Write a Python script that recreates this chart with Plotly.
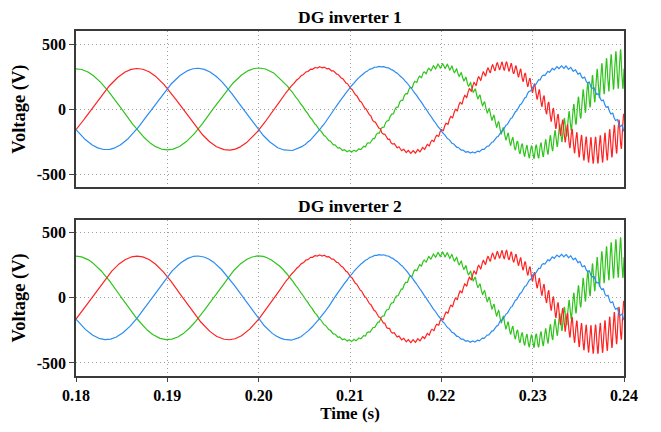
import numpy as np
import plotly.graph_objects as go
from plotly.subplots import make_subplots

# ---- values ----
panel_titles = ["DG inverter 1", "DG inverter 2"]
x_ticks = [0.18, 0.19, 0.20, 0.21, 0.22, 0.23, 0.24]
x_tick_labels = ["0.18", "0.19", "0.20", "0.21", "0.22", "0.23", "0.24"]
y_ticks = [-500, 0, 500]
y_tick_labels = ["-500", "0", "500"]

grid_freq_hz = 50.0            # fundamental (period 0.02 s)
ripple_freq_hz = 1950.0        # high-frequency oscillation seen after 0.20 s
peak_time_red = 0.1867         # first positive peak of each phase (s)
peak_time_blue = 0.1933
peak_time_green = 0.2000

# envelope knots (time, s)
knot_t = [0.180, 0.200, 0.205, 0.210, 0.215, 0.220, 0.225, 0.230, 0.235, 0.240]
# fundamental amplitude (V) at knots
amp_inv1 = [310, 316, 320, 324, 328, 332, 334, 330, 320, 310]
amp_inv2 = [320, 322, 325, 328, 332, 335, 336, 332, 322, 312]
# ripple amplitude (V) at knots, per phase
rip_red_inv1 = [0, 0, 5, 7, 10, 15, 24, 45, 90, 125]
rip_blue_inv1 = [0, 0, 2, 3, 4, 5, 7, 9, 12, 16]
rip_green_inv1 = [0, 0, 5, 8, 11, 17, 28, 50, 95, 155]
rip_red_inv2 = [0, 0, 5, 7, 10, 15, 24, 45, 95, 140]
rip_blue_inv2 = [0, 0, 2, 3, 4, 5, 7, 9, 12, 16]
rip_green_inv2 = [0, 0, 5, 8, 11, 17, 28, 50, 95, 160]

colors = {"red": "#ff2222", "blue": "#2b8cf2", "green": "#2fc41c"}

t = np.linspace(0.18, 0.24, 8000)


def phase(tpk, amp_knots, rip_knots, rip_phase):
    A = np.interp(t, knot_t, amp_knots)
    R = np.interp(t, knot_t, rip_knots)
    return (A * np.cos(2 * np.pi * grid_freq_hz * (t - tpk))
            + R * np.sin(2 * np.pi * ripple_freq_hz * t + rip_phase))


fig = make_subplots(rows=2, cols=1, shared_xaxes=False, vertical_spacing=0.09)

sets = [
    (amp_inv1, rip_red_inv1, rip_blue_inv1, rip_green_inv1),
    (amp_inv2, rip_red_inv2, rip_blue_inv2, rip_green_inv2),
]
for r, (amp, rr, rb, rg) in enumerate(sets, start=1):
    for name, tpk, rk, ph in [("green", peak_time_green, rg, 0.0),
                              ("red", peak_time_red, rr, 2.1),
                              ("blue", peak_time_blue, rb, 4.2)]:
        fig.add_trace(go.Scatter(x=t, y=phase(tpk, amp, rk, ph), mode="lines",
                                 line=dict(color=colors[name], width=1.2),
                                 showlegend=False, hoverinfo="skip"),
                      row=r, col=1)

font_family = "Times New Roman, Liberation Serif, serif"
tick_font = dict(family=font_family, size=16, color="black")
axis_common = dict(showline=True, linecolor="#3a3a3a", linewidth=1.5, mirror=True,
                   showgrid=True, gridcolor="#a0a0a0", griddash="1px,3px", gridwidth=1,
                   zeroline=False)

bold = lambda s: f"<b>{s}</b>"

for r in (1, 2):
    fig.update_xaxes(range=[0.18, 0.24], tickvals=x_ticks,
                     ticktext=[bold(s) for s in x_tick_labels] if r == 2 else [""] * len(x_ticks),
                     ticks="outside" if r == 2 else "", ticklen=4,
                     tickfont=tick_font, row=r, col=1, **axis_common)
    fig.update_yaxes(range=[-600, 600], tickvals=y_ticks,
                     ticktext=[bold(s) for s in y_tick_labels],
                     ticks="outside", ticklen=5, tickfont=tick_font,
                     title=dict(text=bold("Voltage (V)"), standoff=6,
                                font=dict(family=font_family, size=18.5, color="black")),
                     row=r, col=1, **axis_common)

fig.update_xaxes(title=dict(text=bold("Time (s)"), standoff=4,
                            font=dict(family=font_family, size=17, color="black")),
                 row=2, col=1)

fig.update_layout(
    width=661, height=432,
    margin=dict(l=76, r=37, t=31, b=50),
    paper_bgcolor="white", plot_bgcolor="white",
    font=dict(family=font_family, color="black", size=16),
    xaxis=dict(domain=[0, 1]), xaxis2=dict(domain=[0, 1]),
    yaxis=dict(domain=[0.547, 1.0]), yaxis2=dict(domain=[0.0, 0.453]),
)

for i, txt in enumerate(panel_titles):
    fig.add_annotation(text=bold(txt), xref="paper", yref="paper",
                       x=0.5, y=1.0 if i == 0 else 0.453, yanchor="bottom",
                       yshift=2, showarrow=False,
                       font=dict(family=font_family, size=17.5, color="black"))

fig.write_html("out.html")
